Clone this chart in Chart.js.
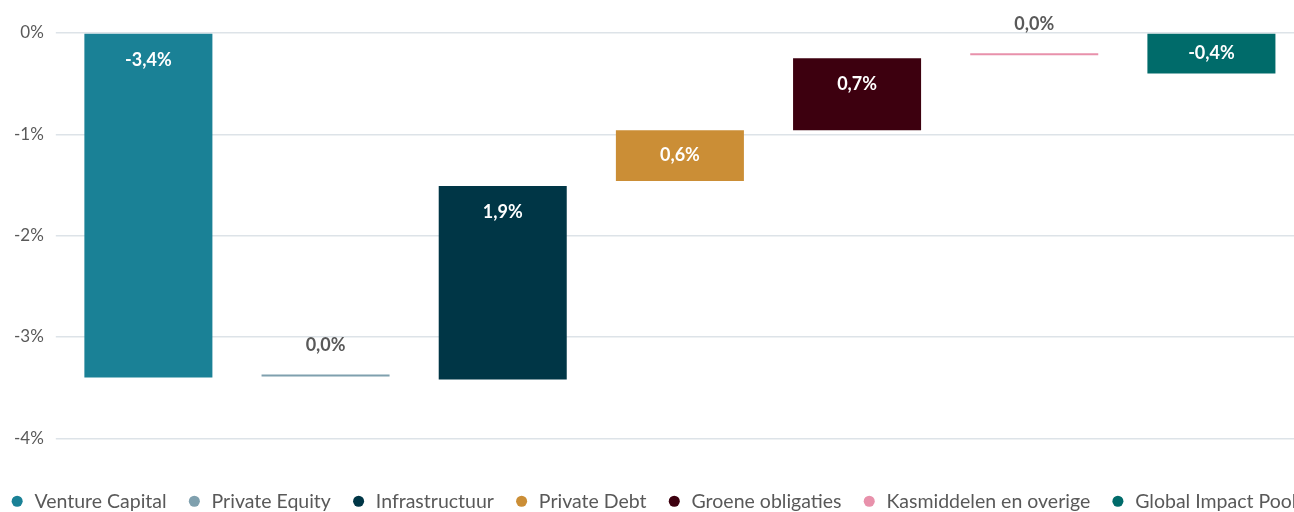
<!DOCTYPE html>
<html>
<head>
<meta charset="utf-8">
<script src="https://cdn.jsdelivr.net/npm/chart.js@4"></script>
<style>
  html,body{margin:0;padding:0;background:#fff;overflow:hidden;}
  #wrap{width:1300px;height:521px;}
  canvas{display:block;}
</style>
</head>
<body>
<div id="wrap"><canvas id="chart"></canvas></div>
<script>
const categories = ['Venture Capital','Private Equity','Infrastructuur','Private Debt','Groene obligaties','Kasmiddelen en overige','Global Impact Pool'];
const barStart = [0, -3.37, -3.42, -0.96, -0.25, -0.20, 0];
const barEnd   = [-3.40, -3.39, -1.51, -1.46, -0.96, -0.22, -0.40];
const values   = [-3.4, 0.0, 1.9, 0.6, 0.7, 0.0, -0.4];
const colors   = ['#1a8196','#7fa0ae','#003646','#cb8e36','#3d000f','#e891ab','#006b6a'];
const yTicks   = [0, -1, -2, -3, -4];

const fmtPct = (v)=> v.toFixed(1).replace('.', ',') + '%';

// labels inside the bars, or above when the bar is only a line
const valueLabels = {
  id: 'valueLabels',
  afterDatasetsDraw(chart){
    const {ctx} = chart;
    ctx.save();
    ctx.font = 'bold 18px Lato';
    ctx.textAlign = 'center';
    ctx.textBaseline = 'middle';
    chart.getDatasetMeta(0).data.forEach((bar, i)=>{
      const top = Math.min(bar.y, bar.base), bot = Math.max(bar.y, bar.base);
      if (bot - top < 6){
        ctx.fillStyle = '#595959';
        ctx.fillText(fmtPct(values[i]), bar.x, top - 29);
      } else {
        ctx.fillStyle = '#ffffff';
        ctx.fillText(fmtPct(values[i]), bar.x, Math.min(top + 26, (top + bot) / 2));
      }
    });
    ctx.restore();
  }
};

// keep the legend on one row even with the wide spacing
const wideLegend = {
  id: 'wideLegend',
  afterInit(chart){
    const lg = chart.legend; if (!lg) return;
    const fit = lg.fit, draw = lg.draw;
    lg.fit = function(){
      const mw = this.maxWidth;
      this.maxWidth = mw + 80;
      fit.call(this);
      this.maxWidth = mw;
      this.width = Math.min(this.width, mw);
    };
    lg.draw = function(){
      const l = this.left, r = this.right;
      this.left = l - 76; this.right = r + 80;
      draw.call(this);
      this.left = l; this.right = r;
    };
  }
};

new Chart(document.getElementById('chart').getContext('2d'), {
  type:'bar',
  data:{
    labels: categories,
    datasets:[{
      data: categories.map((c,i)=> [barStart[i], barEnd[i]]),
      backgroundColor: colors,
      borderWidth: 0,
      categoryPercentage: 1,
      barPercentage: 0.7226
    }]
  },
  options:{
    responsive:true, maintainAspectRatio:false, animation:false,
    layout:{ padding:{ top:33, left:2, right:0, bottom:0 } },
    plugins:{
      tooltip:{ enabled:false },
      legend:{
        position:'bottom',
        labels:{
          usePointStyle:true, pointStyle:'circle', boxWidth:15, boxHeight:7.8,
          padding:20.2, color:'#595959', font:{ family:'Lato', size:19.5 },
          generateLabels:()=> categories.map((c,i)=>({
            text:c, fillStyle:colors[i], strokeStyle:colors[i], lineWidth:0,
            pointStyle:'circle', hidden:false, index:i, fontColor:'#595959'
          }))
        },
        onClick:()=>{}
      }
    },
    scales:{
      x:{
        display:true,
        grid:{ display:false }, border:{ display:false }, ticks:{ display:false },
        afterFit:(s)=>{ s.height = 33; }
      },
      y:{
        min:-4, max:0,
        border:{ display:false },
        grid:{ color:'#dde3e8', lineWidth:1.5, drawTicks:true, tickLength:4 },
        afterBuildTicks:(axis)=>{ axis.ticks = yTicks.map(v=>({value:v})); },
        ticks:{ padding:12, color:'#595959', font:{ family:'Lato', size:17 }, callback:(v)=> v + '%' }
      }
    }
  },
  plugins:[valueLabels, wideLegend]
});
</script>
</body>
</html>
